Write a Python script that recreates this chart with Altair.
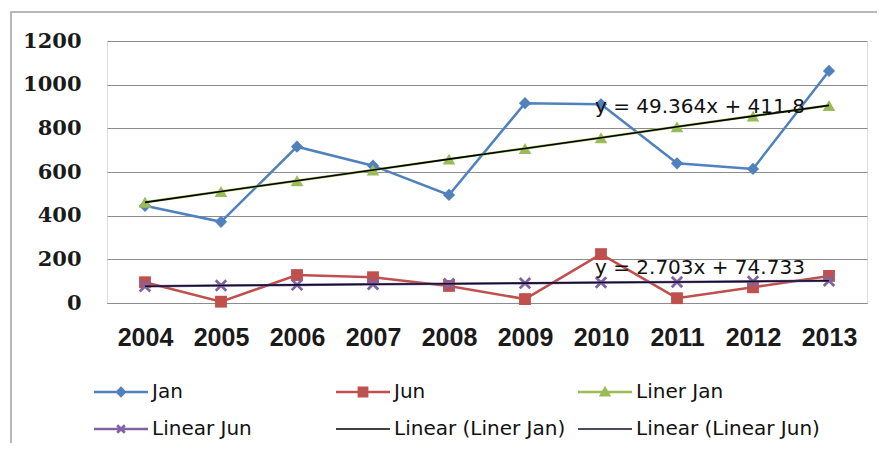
import altair as alt
import pandas as pd

years = ["2004", "2005", "2006", "2007", "2008", "2009", "2010", "2011", "2012", "2013"]
jan = [445, 372, 716, 629, 495, 915, 910, 640, 614, 1063]
jun = [95, 6, 128, 118, 78, 18, 224, 22, 72, 124]
liner_jan = [461, 511, 560, 609, 659, 708, 757, 807, 856, 905]
linear_jun = [77, 80, 83, 86, 88, 91, 94, 96, 99, 102]

series_names = ["Jan", "Jun", "Liner Jan", "Linear Jun", "Linear (Liner Jan)", "Linear (Linear Jun)"]
series_colors = ["#4F81BD", "#C0504D", "#9BBB59", "#8064A2", "#000000", "#10102a"]

eq_text = ["y = 49.364x + 411.8", "y = 2.703x + 74.733"]
eq_year = ["2010", "2010"]
eq_value = [898, 160]

rows = []
for name, vals in [("Jan", jan), ("Jun", jun), ("Liner Jan", liner_jan), ("Linear Jun", linear_jun),
                   ("Linear (Liner Jan)", liner_jan), ("Linear (Linear Jun)", linear_jun)]:
    for y, v in zip(years, vals):
        rows.append({"year": y, "value": v, "series": name})
df = pd.DataFrame(rows)
eq_df = pd.DataFrame({"text": eq_text, "year": eq_year, "value": eq_value})

# legend symbols (filled outlines): line segment plus marker
seg = "M-1,-0.045H1V0.045H-1Z"
thin_seg = "M-1,-0.028H1V0.028H-1Z"
legend_paths = [
    seg + "M0,-0.21L0.21,0L0,0.21L-0.21,0Z",
    seg + "M-0.2,-0.2H0.2V0.2H-0.2Z",
    seg + "M0,-0.23L0.23,0.17H-0.23Z",
    seg + "M0.106,-0.177L0.177,-0.106L0.071,0L0.177,0.106L0.106,0.177L0,0.071L-0.106,0.177"
          "L-0.177,0.106L-0.071,0L-0.177,-0.106L-0.106,-0.177L0,-0.071Z",
    thin_seg,
    thin_seg,
]

color_scale = alt.Scale(domain=series_names, range=series_colors)
legend = alt.Legend(
    title=None, orient="none", direction="horizontal", legendX=-13, legendY=324, columns=3,
    gridAlign="all", columnPadding=-2, rowPadding=-13, padding=0, symbolSize=2916,
    symbolStrokeWidth=0, labelOffset=4, labelFont="DejaVu Sans", labelFontSize=20,
    labelColor="#111111", labelLimit=400, symbolOpacity=1,
)

xenc = alt.X("year:O", scale=alt.Scale(type="point", padding=0.5), sort=years,
             axis=alt.Axis(title=None, labelAngle=0, ticks=False, grid=False, domainColor="#8c8c8c",
                           labelFont="Liberation Sans", labelFontWeight="bold", labelFontSize=25,
                           labelColor="#1a1a1a", labelPadding=22))
yenc = alt.Y("value:Q", scale=alt.Scale(domain=[0, 1200], nice=False),
             axis=alt.Axis(title=None, values=[0, 200, 400, 600, 800, 1000, 1200], format="d",
                           domain=False, ticks=False, gridColor="#8c8c8c", labelFont="DejaVu Serif",
                           labelFontWeight="bold", labelFontSize=21, labelColor="#1a1a1a",
                           labelPadding=26))

base = alt.Chart(df)
main_series = ["Jan", "Jun", "Liner Jan", "Linear Jun"]

carrier = base.transform_filter(alt.datum.value < 0).mark_point(
    filled=True, size=2916, opacity=1, strokeWidth=0
).encode(
    x=xenc, y=yenc,
    color=alt.Color("series:N", scale=color_scale, legend=legend),
    shape=alt.Shape("series:N", scale=alt.Scale(domain=series_names, range=legend_paths), legend=legend),
)

lines = base.transform_filter(alt.FieldOneOfPredicate(field="series", oneOf=main_series)).mark_line(
    strokeWidth=2.5
).encode(x="year:O", y="value:Q", color=alt.Color("series:N", scale=color_scale))


def pts(name, shape, size, filled=True, sw=1):
    return base.transform_filter(alt.datum.series == name).mark_point(
        shape=shape, size=size, filled=filled, opacity=1, strokeWidth=sw
    ).encode(x="year:O", y="value:Q", color=alt.Color("series:N", scale=color_scale))


p_jan = pts("Jan", "diamond", 150)
p_jun = pts("Jun", "square", 140)
p_lj = pts("Liner Jan", "triangle-up", 160)
p_lju = pts("Linear Jun", "M-1,-1L1,1M-1,1L1,-1", 110, filled=False, sw=2.8)

trend = base.transform_filter(
    alt.FieldOneOfPredicate(field="series", oneOf=["Linear (Liner Jan)", "Linear (Linear Jun)"])
).mark_line(strokeWidth=1.6).encode(x="year:O", y="value:Q", color=alt.Color("series:N", scale=color_scale))

eqs = alt.Chart(eq_df).mark_text(align="left", baseline="middle", dx=-6, font="DejaVu Sans",
                                 fontSize=20, color="#111111").encode(x="year:O", y="value:Q", text="text:N")

frame = alt.Chart(eq_df).mark_rect(fill=None, stroke="#b4b4b4", strokeWidth=1.5).encode(
    x=alt.value(-96), x2=alt.value(900), y=alt.value(-29), y2=alt.value(520)
)

chart = alt.layer(carrier, frame, lines, p_jan, p_jun, p_lj, p_lju, trend, eqs).properties(
    width=760, height=262,
    autosize=alt.AutoSizeParams(type="none"),
    padding={"left": 99, "top": 33, "right": 10, "bottom": 140},
).configure_view(stroke=None).configure(background="white")

chart.save("out.html", embed_options={"renderer": "svg", "actions": False})
